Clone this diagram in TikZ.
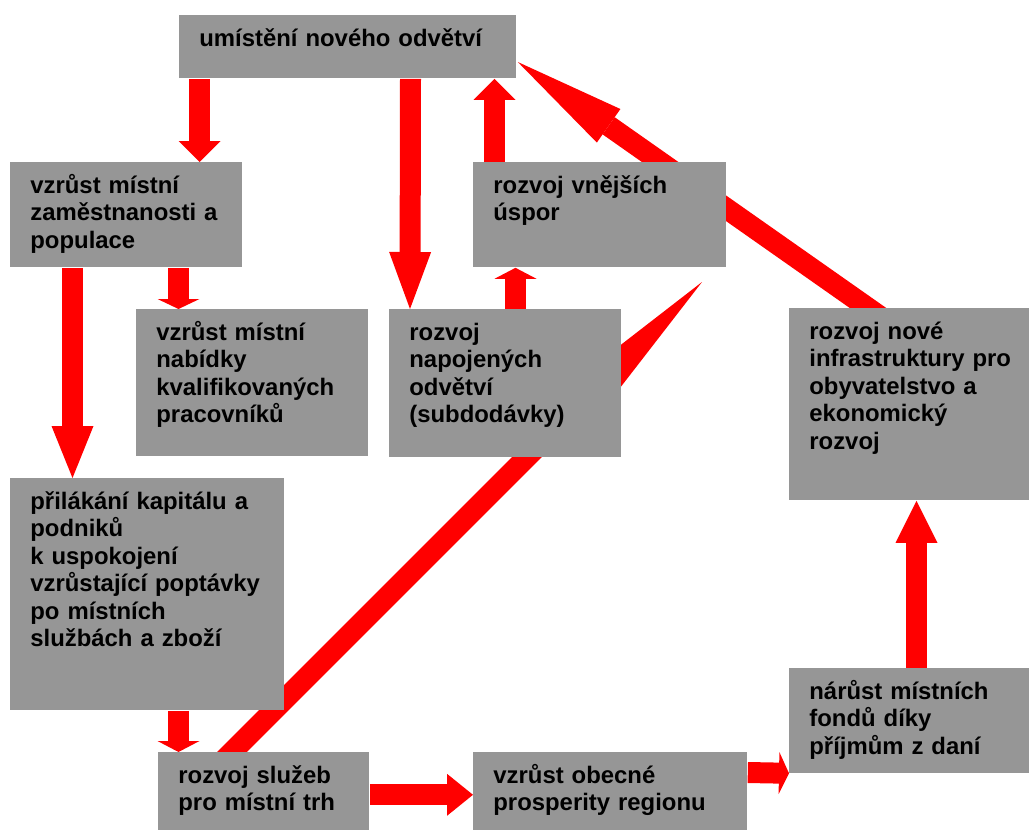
\documentclass[tikz,border=0pt]{standalone}
\usepackage{fontspec}
\setmainfont{Liberation Sans}
\usepackage{tikz}
\usetikzlibrary{arrows.meta, calc}
\definecolor{boxgray}{RGB}{150,150,150}
\definecolor{flowred}{RGB}{255,0,0}
\pgfdeclarelayer{background}
\pgfsetlayers{background,main}
\tikzset{
   mystage/.style={fill=boxgray, anchor=north west, inner xsep=10pt, inner ysep=0pt,
      text height=15.5pt, align=left, font=\fontsize{11.94}{13.75}\selectfont\bfseries},
   myflow/.style={draw=flowred, line width=10.5pt},
   mytip/.style={-{Triangle[length=#1, width=21pt, line width=0pt]}}
}

\begin{document}
\begin{tikzpicture}[x=0.5pt, y=-0.5pt]
      \useasboundingbox (0,0) rectangle (1029,830);
      % boxes
      \node[mystage, text width=148.5pt, text depth=16pt] (settle) at (179,15) {umístění nového odvětví};
      \node[mystage, text width=96pt, text depth=37pt] (jobs) at (10,162) {vzrůst místní\\ zaměstnanosti a\\ populace};
      \node[mystage, text width=106.5pt, text depth=37pt] (extsave) at (473,162) {rozvoj vnějších\\ úspor};
      \node[mystage, text width=96pt, text depth=58pt] (skills) at (136,309) {vzrůst místní\\ nabídky\\ kvalifikovaných\\ pracovníků};
      \node[mystage, text width=96pt, text depth=58.5pt] (linked) at (389,309) {rozvoj\\ napojených\\ odvětví\\ (subdodávky)};
      \node[mystage, text width=100pt, text depth=80.5pt] (infra) at (789,308) {rozvoj nové\\ infrastruktury~pro\\ obyvatelstvo a\\ ekonomický\\ rozvoj};
      \node[mystage, text width=117pt, text depth=100.5pt] (capital) at (10,478) {přilákání kapitálu a\\ podniků\\ k uspokojení\\ vzrůstající~poptávky\\ po místních\\ službách a zboží};
      \node[mystage, text width=100pt, text depth=37pt] (funds) at (789,668) {nárůst místních\\ fondů díky\\ příjmům z daní};
      \node[mystage, text width=85.5pt, text depth=23.5pt] (services) at (158,752) {rozvoj služeb\\ pro místní trh};
      \node[mystage, text width=117pt, text depth=23.5pt] (prosper) at (473,752) {vzrůst obecné\\ prosperity regionu};
      \coordinate (loose) at (702,282);

      % arrows, under the boxes
      \begin{pgfonlayer}{background}
      \draw[myflow, mytip=10.5pt] ($(settle.south west)+(20.5,0)$) -- ($(jobs.north west)+(189.5,0)$);
      \draw[myflow, mytip=28.5pt] ($(settle.south west)+(231.5,0)$) -- ($(linked.north west)+(21,0)$);
      \draw[myflow, mytip=10.5pt] ($(extsave.north west)+(21.5,0)$) -- ($(settle.south west)+(315.5,0)$);
      \draw[myflow, mytip=5.5pt] ($(linked.north west)+(126.5,0)$) -- ($(extsave.south west)+(42.5,0)$);
      \draw[myflow, -{Triangle[length=55.5pt, width=20.5pt, line width=0pt]}]
         ($(infra.north west)+(95.4,11.5)$) -- ($(settle.north east)+(1,47)$);
      \draw[myflow, -{Triangle[length=82.5pt, width=21pt, line width=0pt]}]
         ($(services.north west)+(64,10)$) -- (loose);
      \draw[myflow, mytip=26pt] ($(jobs.south west)+(62.5,0)$) -- ($(capital.north west)+(62.5,0)$);
      \draw[myflow, mytip=5pt] ($(jobs.south west)+(168.5,0)$) -- ($(skills.north west)+(42.5,0)$);
      \draw[myflow, mytip=5.5pt] ($(capital.south west)+(168.5,0)$) -- ($(services.north west)+(20.5,0)$);
      \draw[myflow, mytip=13pt] ($(services.south east)+(0,-36)$) -- ($(prosper.south west)+(0,-36)$);
      \draw[myflow, mytip=5pt] ($(prosper.north east)+(0,20.5)$) -- ($(funds.south west)+(0,-0.5)$);
      \draw[myflow, mytip=21pt] ($(funds.north west)+(127.5,0)$) -- ($(infra.south west)+(127.5,0)$);
      \end{pgfonlayer}
\end{tikzpicture}
\end{document}
